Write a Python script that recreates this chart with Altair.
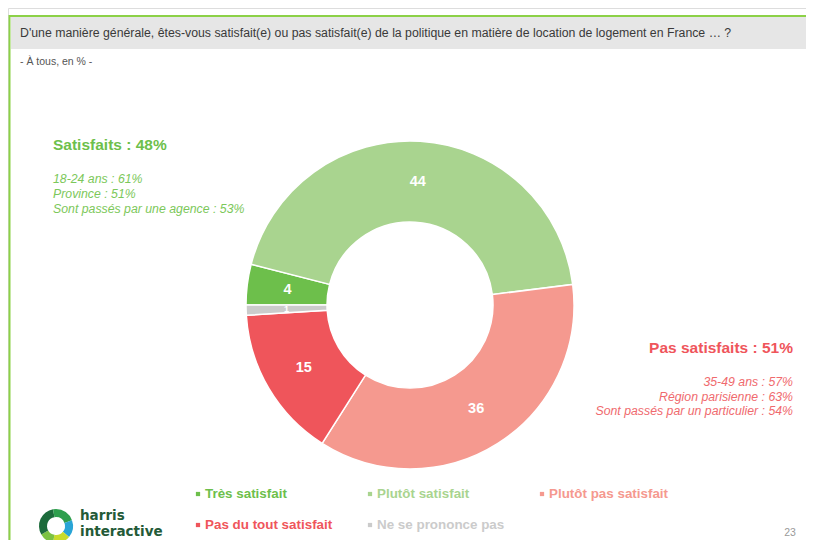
import altair as alt
import pandas as pd
import math

# ---------------- data ----------------
categories = ["Très satisfait", "Plutôt satisfait", "Plutôt pas satisfait",
              "Pas du tout satisfait", "Ne se prononce pas"]
values = [4, 44, 36, 15, 1]
slice_colors = ["#6DBF4B", "#A9D48F", "#F5998F", "#EF555B", "#CBCBCB"]
legend_colors = ["#6DBF4B", "#A9D48F", "#F5A39B", "#EF555B", "#BDBDBD"]

question = ("D'une manière générale, êtes-vous satisfait(e) ou pas satisfait(e) "
            "de la politique en matière de location de logement en France … ?")
subtitle = "- À tous, en % -"
sat_title = "Satisfaits : 48%"
sat_lines = ["18-24 ans : 61%", "Province : 51%", "Sont passés par une agence : 53%"]
pas_title = "Pas satisfaits : 51%"
pas_lines = ["35-49 ans : 57%", "Région parisienne : 63%",
             "Sont passés par un particulier : 54%"]
page_number = "23"
logo_words = ["harris", "interactive"]

# ---------------- layout (pixels, chart coordinates) ----------------
W, H = 798, 532
CX, CY = 402, 297
R_OUT, R_IN = 164, 83
FONT = "Liberation Sans, Arial, sans-serif"

legend_x = [190, 362, 534, 190, 362]
legend_y = [486, 486, 486, 517, 517]

one = pd.DataFrame({"k": [0]})

df = pd.DataFrame({
    "cat": categories,
    "val": values,
    "ordre": list(range(len(categories))),
})

color_scale = alt.Scale(domain=categories, range=slice_colors)
theta_enc = alt.Theta("val:Q", stack=True,
                      scale=alt.Scale(range=[-math.pi / 2, 3 * math.pi / 2]))

# frame
band = alt.Chart(one).mark_rect(color="#E6E6E6").encode(
    x=alt.value(3), x2=alt.value(W), y=alt.value(9), y2=alt.value(41))
top_line = alt.Chart(one).mark_rule(color="#8CD147", strokeWidth=2).encode(
    x=alt.value(1), x2=alt.value(W), y=alt.value(8))
left_line = alt.Chart(one).mark_rule(color="#8CD147", strokeWidth=2).encode(
    x=alt.value(1.5), y=alt.value(7), y2=alt.value(H))

q_text = alt.Chart(pd.DataFrame({"t": [question]})).mark_text(
    align="left", baseline="middle", font=FONT, fontSize=12.3, color="#3A3A3A"
).encode(text="t:N", x=alt.value(12), y=alt.value(25))
sub_text = alt.Chart(pd.DataFrame({"t": [subtitle]})).mark_text(
    align="left", baseline="middle", font=FONT, fontSize=10.5, color="#555555"
).encode(text="t:N", x=alt.value(12), y=alt.value(54))

# donut
arcs = alt.Chart(df).mark_arc(
    radius=R_OUT, radius2=R_IN, x=CX, y=CY, stroke="white", strokeWidth=1.5
).encode(
    theta=theta_enc,
    order=alt.Order("ordre:Q"),
    color=alt.Color("cat:N", scale=color_scale, legend=None),
)
labels = alt.Chart(df).mark_text(
    radius=(R_OUT + R_IN) / 2, x=CX, y=CY, font=FONT, fontWeight="bold",
    color="white", baseline="middle", align="center"
).encode(
    theta=theta_enc,
    order=alt.Order("ordre:Q"),
    text=alt.Text("val:Q"),
    size=alt.condition(alt.datum.val < 2, alt.value(9), alt.value(14.5)),
)

# annotations
sat_t = alt.Chart(pd.DataFrame({"t": [sat_title]})).mark_text(
    align="left", baseline="middle", font=FONT, fontSize=15.5, fontWeight="bold",
    color="#6DBF4B").encode(text="t:N", x=alt.value(45), y=alt.value(137))
sat_l = alt.Chart(pd.DataFrame({"t": sat_lines, "y": [171, 186, 201]})).mark_text(
    align="left", baseline="middle", font=FONT, fontSize=12.3, fontStyle="italic",
    color="#7CC85A").encode(text="t:N", x=alt.value(45),
                             y=alt.Y("y:Q", scale=None))
pas_t = alt.Chart(pd.DataFrame({"t": [pas_title]})).mark_text(
    align="right", baseline="middle", font=FONT, fontSize=15.5, fontWeight="bold",
    color="#EF555B").encode(text="t:N", x=alt.value(785), y=alt.value(340))
pas_l = alt.Chart(pd.DataFrame({"t": pas_lines, "y": [374, 389, 403]})).mark_text(
    align="right", baseline="middle", font=FONT, fontSize=12.3, fontStyle="italic",
    color="#F06A6E").encode(text="t:N", x=alt.value(785),
                             y=alt.Y("y:Q", scale=None))

# legend
leg_df = pd.DataFrame({"cat": categories, "lx": legend_x, "ly": legend_y,
                       "tx": [v + 7 for v in legend_x]})
leg_col = alt.Scale(domain=categories, range=legend_colors)
leg_sq = alt.Chart(leg_df).mark_square(size=18, opacity=1).encode(
    x=alt.X("lx:Q", scale=None), y=alt.Y("ly:Q", scale=None),
    color=alt.Color("cat:N", scale=leg_col, legend=None))
leg_tx = alt.Chart(leg_df).mark_text(
    align="left", baseline="middle", font=FONT, fontSize=13.4, fontWeight="bold"
).encode(x=alt.X("tx:Q", scale=None), y=alt.Y("ly:Q", scale=None),
         text="cat:N", color=alt.Color("cat:N", scale=leg_col, legend=None))

# page number
page = alt.Chart(pd.DataFrame({"t": [page_number]})).mark_text(
    align="center", baseline="middle", font=FONT, fontSize=10.5, color="#9A9A9A"
).encode(text="t:N", x=alt.value(782), y=alt.value(525))

# logo
LX, LY = 48, 518
segs = [(0, 70, "#2E9F4D"), (70, 130, "#29A4D6"), (130, 190, "#C9DB2B"),
        (190, 240, "#7CC242"), (240, 350, "#1C6B3B"), (350, 360, "#2E9F4D")]
logo_layers = []
for a0, a1, c in segs:
    logo_layers.append(alt.Chart(one).mark_arc(
        x=LX, y=LY, radius=17, radius2=9,
        theta=math.radians(a0), theta2=math.radians(a1), color=c
    ).encode(opacity=alt.value(1)))
logo_txt = alt.Chart(pd.DataFrame({"t": logo_words, "y": [512, 528]})).mark_text(
    align="left", baseline="alphabetic", font="DejaVu Sans, " + FONT, fontSize=13.5,
    fontWeight="bold", color="#245A37"
).encode(text="t:N", x=alt.value(72), y=alt.Y("y:Q", scale=None))

chart = alt.layer(
    band, top_line, left_line, q_text, sub_text,
    arcs, labels, sat_t, sat_l, pas_t, pas_l, leg_sq, leg_tx, page,
    *logo_layers, logo_txt
).properties(
    width=W, height=H, autosize="none", padding=0
).configure_view(stroke=None).configure(background="white")

chart.save("out.html", embed_options={"renderer": "svg", "actions": False})
